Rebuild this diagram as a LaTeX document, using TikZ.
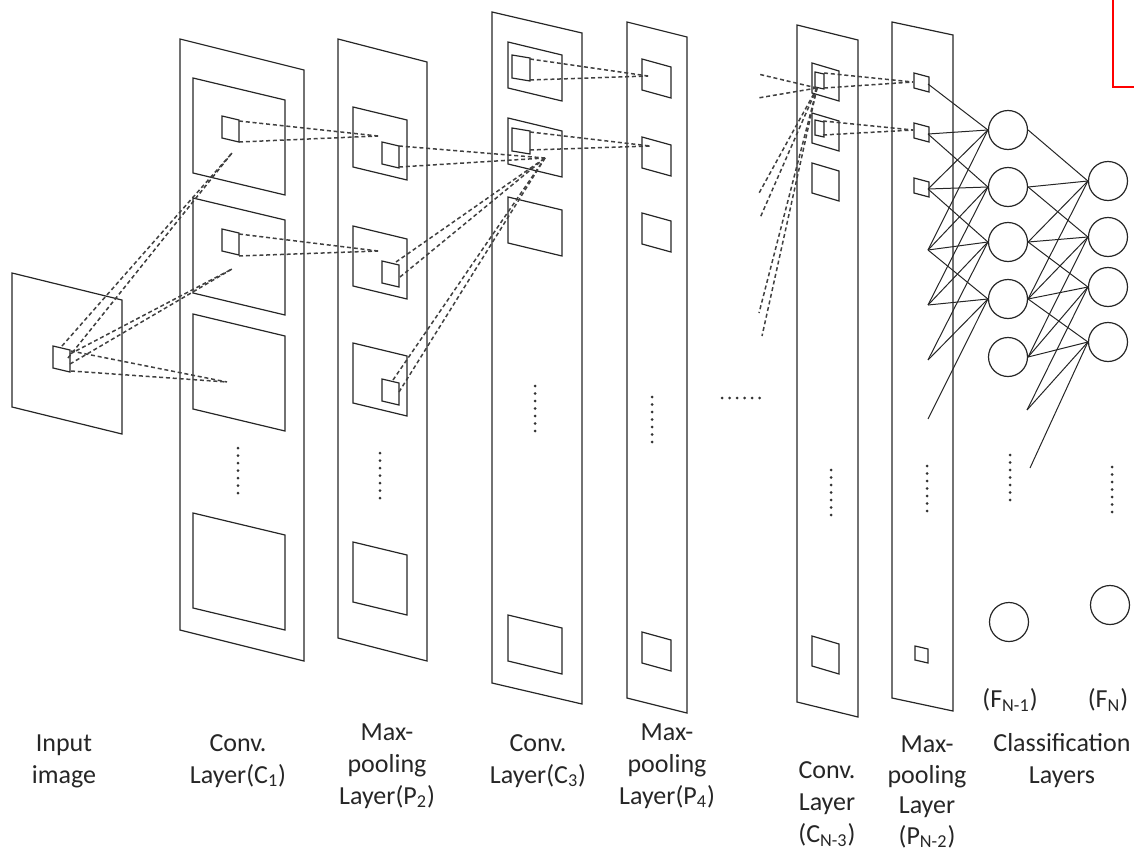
\documentclass[tikz,border=0pt]{standalone}
\usepackage{fontspec}
\setmainfont{Carlito}
\usetikzlibrary{positioning}

% parallelogram sheet: x, y, width, slant, height
\newcommand{\featmap}[5]{\draw[plane] (#1,#2) -- ++(#3,#4) -- ++(0,#5) -- ++(-#3,-#4) -- cycle;}
% column of seven dots
\newcommand{\dotcol}[2]{\foreach \k in {0,...,6} \fill[black!80] (#1,{#2+7.5*\k}) circle (1.5);}

\begin{document}
\begin{tikzpicture}[x=0.5pt, y=-0.5pt,
    every node/.style={font=\fontsize{13}{16}\selectfont, text=black!85},
    plane/.style={draw=black!85, line width=0.6pt},
    link/.style={draw=black!75, line width=0.75pt, dash pattern=on 2pt off 1.4pt},
    wire/.style={draw=black!85, line width=0.5pt},
    neuron/.style={circle, draw=black!85, line width=0.6pt, minimum size=19.5pt, inner sep=0pt},
    lbl/.style={align=center},
]
\useasboundingbox (0,0) rectangle (1134,851);

% Input image
\featmap{12}{273}{110}{27}{134}
\featmap{53}{346}{17}{4}{22}

% C1
\featmap{180}{39}{124}{31}{591}
\foreach \y in {78,198,314,513} \featmap{193}{\y}{92}{22}{95};
\foreach \y in {116,229} \featmap{222}{\y}{17}{4}{22};
\dotcol{238}{448}

% P2
\featmap{338}{39}{89}{23}{599}
\foreach \y in {107,226,343,542} \featmap{353}{\y}{54}{13}{60};
\foreach \y in {142,261,379} \featmap{382}{\y}{17}{4}{22};
\dotcol{380}{453}

% C3
\featmap{492}{12}{90}{21}{671}
\foreach \y in {42,118,197,615} \featmap{508}{\y}{54}{13}{46};
\foreach \y in {55,128} \featmap{512}{\y}{18}{3}{23};
\dotcol{535}{386}

% P4
\featmap{627}{22}{60}{15}{676}
\foreach \y in {59,137,213,632} \featmap{642}{\y}{29}{8}{31};
\dotcol{652}{397}

% gap
\foreach \k in {0,...,5} \fill[black!80] ({722+7.5*\k},398) circle (1.5);

% C_{N-3}
\featmap{797}{25}{61}{15}{677}
\foreach \y in {63,113,163,636} \featmap{812}{\y}{27}{8}{30};
\foreach \y in {72,120} \featmap{815}{\y}{9}{2}{15};
\dotcol{831}{470}

% P_{N-2}
\featmap{892}{22}{61}{13}{676}
\foreach \y in {73,123,178} \featmap{914}{\y}{15}{4}{15};
\featmap{915}{646}{13}{3}{14}
\dotcol{927}{466}

% dashed receptive-field links
\coordinate (ia) at (62,346);
\coordinate (ib) at (68,358);
\coordinate (ic) at (70,354);
\coordinate (id) at (70,364);
\coordinate (ie) at (71,351);
\coordinate (if) at (71,371);
\coordinate (ct1) at (232,153);
\coordinate (ct2) at (232,269);
\coordinate (ct3) at (227,382);
\foreach \a/\b in {ia/ct1, ib/ct1, ic/ct2, id/ct2, ie/ct3, if/ct3} \draw[link] (\a) -- (\b);

\coordinate (ca1) at (239,121);
\coordinate (cb1) at (239,142);
\coordinate (ca2) at (239,234);
\coordinate (cb2) at (239,256);
\coordinate (pt1) at (378,136);
\coordinate (pt2) at (378,251);
\foreach \a/\b in {ca1/pt1, cb1/pt1, ca2/pt2, cb2/pt2} \draw[link] (\a) -- (\b);

\coordinate (pa1) at (399,146);
\coordinate (pb1) at (399,167);
\coordinate (pa2) at (396,262);
\coordinate (pb2) at (400,277);
\coordinate (pa3) at (393,380);
\coordinate (pb3) at (399,392);
\coordinate (ht) at (545,158);
\foreach \a in {pa1,pb1,pa2,pb2,pa3,pb3} \draw[link] (\a) -- (ht);

\coordinate (ha1) at (530,59);
\coordinate (hb1) at (530,80);
\coordinate (ha2) at (530,132);
\coordinate (hb2) at (530,150);
\coordinate (qt1) at (648,76);
\coordinate (qt2) at (650,146);
\foreach \a/\b in {ha1/qt1, hb1/qt1, ha2/qt2, hb2/qt2} \draw[link] (\a) -- (\b);

\coordinate (nt) at (817,88);
\foreach \p in {(758,74),(758,98),(758,195),(760,218),(759,313),(762,336)}
  \draw[link] (nt) -- \p;

\coordinate (na1) at (824,73);
\coordinate (nb1) at (824,88);
\coordinate (na2) at (823,121);
\coordinate (nb2) at (823,135);
\coordinate (mt1) at (913,82);
\coordinate (mt2) at (913,130);
\foreach \a/\b in {na1/mt1, nb1/mt1, na2/mt2, nb2/mt2} \draw[link] (\a) -- (\b);

% classification layers
\foreach \y [count=\i] in {130,187,242,299,357} \node[neuron] (fa\i) at (1008,\y) {};
\node[neuron] (fan) at (1009,622) {};
\foreach \y [count=\i] in {181,237,287,342} \node[neuron] (fb\i) at (1108,\y) {};
\node[neuron] (fbn) at (1110,605) {};
\dotcol{1010}{455}
\dotcol{1112}{467}

\foreach \y [count=\i] in {84,134,189,250,305,360,419} \coordinate (u\i) at (928,\y);
\foreach \j in {1,...,4} \foreach \d in {0,...,3} {
  \pgfmathtruncatemacro\i{\j+\d}
  \draw[wire] (u\i) -- (fa\j.west);
}
\foreach \i in {1,...,5} \coordinate (s\i) at (fa\i.east);
\coordinate (s6) at (1027,410);
\coordinate (s7) at (1030,468);
\foreach \j in {1,...,4} \foreach \d in {0,...,3} {
  \pgfmathtruncatemacro\i{\j+\d}
  \draw[wire] (s\i) -- (fb\j.west);
}

% labels
\node[lbl] (lin) at (64,761) {Input\\image};
\node[lbl] (lc1) at (238,761) {Conv.\\Layer(C\textsubscript{1})};
\node[lbl] (lp2) at (387,766) {Max-\\pooling\\Layer(P\textsubscript{2})};
\node[lbl] (lc3) at (538,761) {Conv.\\Layer(C\textsubscript{3})};
\node[lbl] (lp4) at (667,766) {Max-\\pooling\\Layer(P\textsubscript{4})};
\node[lbl] (lcn) at (827,804) {Conv.\\Layer\\(C\textsubscript{N-3})};
\node[lbl, font=\fontsize{13}{15.2}\selectfont] (lpn) at (927,792)
  {Max-\\pooling\\Layer\\(P\textsubscript{N-2})};
\node[lbl] (lfa) at (1010,700) {(F\textsubscript{N-1})};
\node[lbl] (lfb) at (1108,700) {(F\textsubscript{N})};
\node[lbl] (lcl) at (1062,761) {Classification\\Layers};

% red corner mark
\draw[red, line width=1pt] (1113,0) -- (1113,87) -- (1134,87);

\end{tikzpicture}
\end{document}
